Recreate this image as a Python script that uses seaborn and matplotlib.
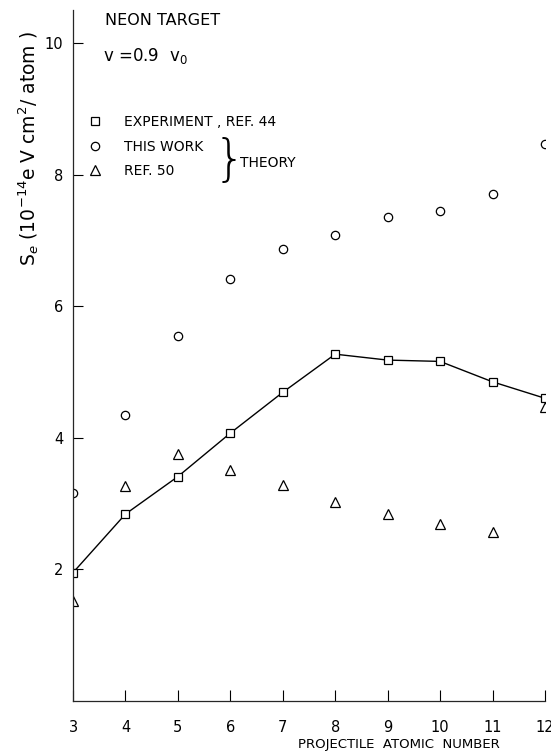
import matplotlib
matplotlib.use("Agg")
import matplotlib.pyplot as plt
import seaborn as sns
import pandas as pd

# values
atomic_number = [3, 4, 5, 6, 7, 8, 9, 10, 11, 12]
experiment = [1.95, 2.84, 3.41, 4.07, 4.69, 5.27, 5.18, 5.16, 4.85, 4.60]
this_work = [3.16, 4.34, 5.54, 6.41, 6.87, 7.08, 7.35, 7.45, 7.70, 8.47]
ref50 = [1.52, 3.27, 3.76, 3.51, 3.28, 3.03, 2.84, 2.69, 2.57, 4.46]

legend_labels = ["EXPERIMENT , REF. 44", "THIS WORK", "REF. 50"]

df = pd.DataFrame({"Z": atomic_number, "exp": experiment,
                   "work": this_work, "ref50": ref50})

sns.set_style("ticks")
plt.rcParams["font.family"] = ["DejaVu Sans"]
plt.rcParams["text.color"] = "black"
plt.rcParams["xtick.color"] = "black"
plt.rcParams["ytick.color"] = "black"
plt.rcParams["axes.labelcolor"] = "black"

fig = plt.figure(figsize=(5.51, 7.51), dpi=100)
ax = fig.add_axes([0.1325, 0.0666, 0.8565, 0.9201])

mk = dict(markerfacecolor="white", markeredgecolor="black", markeredgewidth=0.9)
sns.lineplot(data=df, x="Z", y="exp", ax=ax, color="black", lw=1.0,
             marker="s", markersize=6, label=legend_labels[0], **mk)
sns.lineplot(data=df, x="Z", y="work", ax=ax, color="black", lw=0,
             marker="o", markersize=6, label=legend_labels[1], **mk)
sns.lineplot(data=df, x="Z", y="ref50", ax=ax, color="black", lw=0,
             marker="^", markersize=7, label=legend_labels[2], **mk)

ax.set_xlim(3, 12)
ax.set_ylim(0, 10.5)
ax.set_xticks(atomic_number)
ax.set_yticks([2, 4, 6, 8, 10])
sns.despine(ax=ax)
for s in ["left", "bottom"]:
    ax.spines[s].set_linewidth(0.9)
ax.tick_params(axis="x", direction="in", length=8, width=0.8, pad=14, labelsize=10.5)
ax.tick_params(axis="y", direction="in", length=7, width=0.8, pad=7, labelsize=10.5)

ax.set_xlabel("PROJECTILE  ATOMIC  NUMBER", fontsize=9.5)
ax.xaxis.set_label_coords(0.69, -0.053)
ax.set_ylabel(r"S$_e$ (10$^{-14}$e V cm$^2$/ atom )", fontsize=13.5)
ax.yaxis.set_label_coords(-0.068, 0.80)

ax.text(0.068, 0.995, "NEON TARGET", transform=ax.transAxes,
        fontsize=11.5, va="top")
ax.text(0.064, 0.948, r"v =0.9  v$_0$", transform=ax.transAxes,
        fontsize=12, va="top")

leg = ax.legend(loc="upper left", bbox_to_anchor=(0.0, 0.868), frameon=False,
                fontsize=10, handlelength=1.2, handletextpad=1.5,
                labelspacing=0.75, borderaxespad=0.6)
for h in leg.legend_handles:
    h.set_linestyle("none")

ax.text(0.298, 0.782, "}", transform=ax.transAxes, fontsize=36,
        va="center", ha="left", fontweight="ultralight")
ax.text(0.354, 0.779, "THEORY", transform=ax.transAxes, fontsize=10,
        va="center", ha="left")

fig.savefig("out.png", dpi=100)
